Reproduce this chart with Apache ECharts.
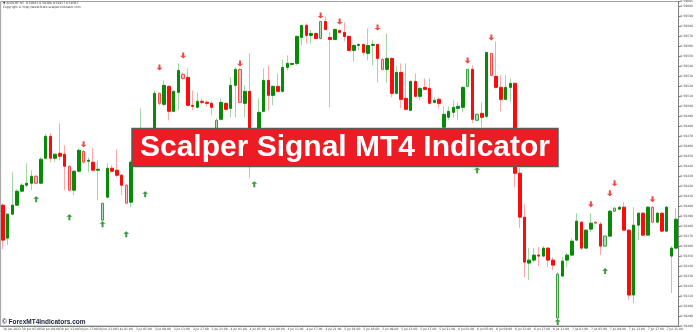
<!DOCTYPE html>
<html><head><meta charset="utf-8">
<script src="https://cdn.jsdelivr.net/npm/echarts/dist/echarts.min.js"></script>
<style>html,body{margin:0;padding:0;background:#fff}#c{width:696px;height:332px}</style>
</head><body><div id="c"></div>
<script>
// ---- tick labels (H1 bars: 30 Jun 01:00 .. 7 Jul 23:00) ----
const categories = [];
for (let h = 1; h < 24; h++) categories.push(h === 1 ? '30 Jun 2023' : '30 Jun ' + String(h).padStart(2, '0') + ':00');
for (let d = 3; d <= 7; d++) for (let h = 0; h < 24; h++) categories.push(d + ' Jul ' + String(h).padStart(2, '0') + ':00');

// ---- OHLC values ----
const opens = [0.59401,0.59368,0.59392,0.59401,0.59415,0.59421,0.59423,0.59430,0.59423,0.59448,
0.59470,0.59448,0.59453,0.59452,0.59440,0.59416,0.59435,0.59455,0.59445,0.59444,
0.59436,0.59386,0.59409,0.59438,0.59436,0.59431,0.59421,0.59404,0.59446,0.59456,
0.59474,0.59458,0.59466,0.59513,0.59502,0.59520,0.59495,0.59514,0.59532,0.59529,
0.59501,0.59499,0.59505,0.59504,0.59503,0.59466,0.59487,0.59503,0.59498,0.59521,
0.59537,0.59503,0.59515,0.59446,0.59471,0.59495,0.59526,0.59511,0.59520,0.59515,
0.59539,0.59542,0.59543,0.59569,0.59581,0.59571,0.59573,0.59568,0.59585,0.59569,
0.59567,0.59576,0.59574,0.59570,0.59556,0.59561,0.59562,0.59553,0.59561,0.59562,
0.59547,0.59537,0.59548,0.59513,0.59534,0.59508,0.59496,0.59525,0.59510,0.59519,
0.59518,0.59504,0.59507,0.59479,0.59489,0.59494,0.59498,0.59499,0.59520,0.59537,
0.59486,0.59493,0.59490,0.59553,0.59530,0.59519,0.59507,0.59519,0.59523,0.59433,
0.59389,0.59343,0.59346,0.59351,0.59350,0.59358,0.59346,0.59288,0.59330,0.59346,
0.59351,0.59366,0.59384,0.59358,0.59377,0.59384,0.59382,0.59360,0.59370,0.59395,
0.59397,0.59399,0.59376,0.59311,0.59381,0.59393,0.59371,0.59399,0.59384,0.59393,
0.59375,0.59350,0.59358];
const closes = [0.59366,0.59392,0.59401,0.59415,0.59421,0.59423,0.59430,0.59423,0.59447,0.59470,
0.59448,0.59452,0.59450,0.59440,0.59416,0.59435,0.59456,0.59444,0.59446,0.59436,
0.59437,0.59403,0.59438,0.59435,0.59431,0.59421,0.59403,0.59444,0.59461,0.59474,
0.59458,0.59476,0.59513,0.59503,0.59521,0.59495,0.59515,0.59536,0.59528,0.59501,
0.59500,0.59505,0.59504,0.59503,0.59499,0.59486,0.59504,0.59497,0.59521,0.59537,
0.59504,0.59515,0.59456,0.59466,0.59494,0.59526,0.59511,0.59520,0.59515,0.59539,
0.59543,0.59543,0.59570,0.59581,0.59571,0.59573,0.59568,0.59585,0.59577,0.59567,
0.59577,0.59574,0.59570,0.59556,0.59561,0.59562,0.59554,0.59561,0.59562,0.59548,
0.59537,0.59548,0.59513,0.59534,0.59507,0.59497,0.59525,0.59510,0.59518,0.59517,
0.59503,0.59506,0.59503,0.59492,0.59495,0.59499,0.59500,0.59519,0.59537,0.59487,
0.59492,0.59489,0.59554,0.59531,0.59519,0.59507,0.59519,0.59523,0.59433,0.59389,
0.59344,0.59346,0.59351,0.59350,0.59358,0.59346,0.59341,0.59332,0.59345,0.59351,
0.59365,0.59385,0.59358,0.59376,0.59383,0.59383,0.59360,0.59370,0.59395,0.59398,
0.59399,0.59376,0.59311,0.59381,0.59393,0.59371,0.59399,0.59384,0.59393,0.59375,
0.59399,0.59358,0.59387];
const highs = [0.59403,0.59393,0.59434,0.59417,0.59423,0.59443,0.59436,0.59431,0.59449,0.59472,
0.59473,0.59453,0.59483,0.59461,0.59441,0.59436,0.59458,0.59456,0.59449,0.59458,
0.59446,0.59403,0.59443,0.59441,0.59457,0.59432,0.59422,0.59446,0.59466,0.59498,
0.59476,0.59477,0.59516,0.59514,0.59526,0.59521,0.59516,0.59543,0.59534,0.59538,
0.59516,0.59514,0.59508,0.59506,0.59505,0.59488,0.59508,0.59504,0.59529,0.59539,
0.59538,0.59521,0.59553,0.59471,0.59508,0.59538,0.59541,0.59521,0.59533,0.59547,
0.59551,0.59543,0.59571,0.59582,0.59583,0.59577,0.59574,0.59585,0.59590,0.59574,
0.59578,0.59577,0.59584,0.59571,0.59562,0.59563,0.59563,0.59578,0.59566,0.59563,
0.59548,0.59573,0.59549,0.59541,0.59543,0.59543,0.59526,0.59533,0.59519,0.59528,
0.59528,0.59509,0.59509,0.59500,0.59500,0.59506,0.59504,0.59520,0.59537,0.59541,
0.59493,0.59504,0.59554,0.59553,0.59565,0.59531,0.59531,0.59528,0.59524,0.59438,
0.59402,0.59358,0.59358,0.59359,0.59360,0.59359,0.59349,0.59334,0.59349,0.59353,
0.59368,0.59393,0.59385,0.59377,0.59393,0.59385,0.59384,0.59371,0.59396,0.59399,
0.59400,0.59404,0.59377,0.59399,0.59394,0.59394,0.59400,0.59400,0.59394,0.59394,
0.59400,0.59360,0.59398];
const lows = [0.59357,0.59361,0.59391,0.59400,0.59414,0.59419,0.59416,0.59422,0.59422,0.59448,
0.59444,0.59444,0.59446,0.59416,0.59415,0.59411,0.59434,0.59443,0.59434,0.59435,
0.59406,0.59385,0.59408,0.59434,0.59429,0.59411,0.59402,0.59399,0.59443,0.59451,
0.59440,0.59456,0.59464,0.59501,0.59500,0.59486,0.59494,0.59496,0.59526,0.59500,
0.59496,0.59498,0.59502,0.59500,0.59491,0.59461,0.59486,0.59495,0.59489,0.59489,
0.59503,0.59489,0.59428,0.59441,0.59468,0.59494,0.59496,0.59501,0.59514,0.59514,
0.59536,0.59541,0.59541,0.59561,0.59563,0.59563,0.59567,0.59567,0.59576,0.59499,
0.59566,0.59573,0.59565,0.59555,0.59545,0.59556,0.59551,0.59546,0.59541,0.59524,
0.59536,0.59524,0.59509,0.59512,0.59498,0.59496,0.59495,0.59509,0.59506,0.59516,
0.59502,0.59503,0.59498,0.59476,0.59486,0.59489,0.59486,0.59494,0.59519,0.59483,
0.59485,0.59479,0.59488,0.59530,0.59518,0.59495,0.59506,0.59504,0.59419,0.59378,
0.59329,0.59326,0.59344,0.59340,0.59349,0.59339,0.59336,0.59286,0.59329,0.59339,
0.59350,0.59365,0.59356,0.59357,0.59374,0.59382,0.59351,0.59359,0.59369,0.59394,
0.59396,0.59375,0.59306,0.59303,0.59366,0.59370,0.59370,0.59383,0.59383,0.59374,
0.59374,0.59313,0.59357];

// ---- signal arrows (bar index, price) ----
const sellIdx = [17,33,38,50,67,71,79,98,103,124,128,129,137];
const sellVal = [0.59462,0.59539,0.59551,0.59543,0.59591,0.59585,0.59579,0.59546,0.59569,0.59402,0.59413,0.59423,0.59407];
const buyIdx = [7,14,21,26,30,53,100,117,127];
const buyVal = [0.59407,0.59389,0.59382,0.59372,0.59412,0.59422,0.59436,0.59284,0.59335];

// bars drawn with a faded body in the picture (style list, by bar index)
const fadedBars = [7,14,17,21,26,33,38,45,50,67,80,98,100,103,117,125,127,129,137];

const wickData = opens.map((o, i) => [o, closes[i], lows[i], highs[i]]);
const bodyData = opens.map((o, i) => {
  const v = [o, closes[i], Math.min(o, closes[i]), Math.max(o, closes[i])];
  if (fadedBars.indexOf(i) < 0) return v;
  const up = closes[i] > o;
  return {value: v, itemStyle: up
    ? {color: '#b5dcb5', borderColor: '#3f9f3f'}
    : {color0: '#ffc0c0', borderColor0: '#ff4a4a', color: '#ffc0c0', borderColor: '#ff4a4a'}};
});

const chart = echarts.init(document.getElementById('c'), null, {renderer: 'canvas'});
chart.setOption({
  animation: false,
  backgroundColor: '#fff',
  grid: {left: 0, right: 14, top: 1, bottom: 6, show: true, borderColor: '#a0a0a0', borderWidth: 1},
  xAxis: {
    type: 'category', data: categories, boundaryGap: true,
    axisLine: {lineStyle: {color: '#808080'}},
    axisTick: {interval: 3, length: 2, lineStyle: {color: '#808080'}},
    axisLabel: {interval: 3, fontSize: 3, color: '#444', margin: 1.5, align: 'left', fontFamily: 'DejaVu Sans'}
  },
  yAxis: {
    type: 'value', position: 'right', min: 0.5928, max: 0.59605, interval: 0.0001, scale: true,
    axisLine: {show: true, lineStyle: {color: '#808080'}},
    axisTick: {show: true, length: 2, lineStyle: {color: '#808080'}},
    splitLine: {show: false},
    axisLabel: {fontSize: 3, color: '#444', margin: 2, formatter: v => v.toFixed(5), fontFamily: 'DejaVu Sans'}
  },
  series: [
    {type: 'candlestick', data: wickData, barWidth: 1, silent: true,
     itemStyle: {color: '#a3d6a3', color0: '#ffa6a6', borderColor: '#a3d6a3', borderColor0: '#ffa6a6', borderWidth: 1}},
    {type: 'candlestick', data: bodyData, barWidth: 3, silent: true,
     itemStyle: {color: '#078a07', color0: '#ff0a0a', borderColor: '#078a07', borderColor0: '#ff0a0a', borderWidth: 1}},
    {type: 'scatter', data: sellIdx.map((x, k) => [x, sellVal[k]]), silent: true,
     symbol: 'path://M2,0 L4,0 L4,4 L6,4 L3,7 L0,4 L2,4 Z', symbolSize: [6, 6], itemStyle: {color: '#f01818'}},
    {type: 'scatter', data: buyIdx.map((x, k) => [x, buyVal[k]]), silent: true,
     symbol: 'path://M3,0 L6,3 L4,3 L4,7 L2,7 L2,3 L0,3 Z', symbolSize: [6, 6], itemStyle: {color: '#0e800e'}}
  ],
  graphic: [
    {type: 'text', left: 3, top: 2, z: 50, style: {text: '▼ AUDCHF,H1  0.59387 0.59398 0.59357 0.59387', fontSize: 3, fill: '#333', fontFamily: 'DejaVu Sans'}},
    {type: 'text', left: 3, top: 5.5, z: 50, style: {text: 'Copyright © http://www.forex-scalper-indicator.com', fontSize: 3, fill: '#333', fontFamily: 'DejaVu Sans'}},
    {type: 'text', left: 2, top: 319, z: 50, style: {text: '© ForexMT4Indicators.com', fontSize: 6.5, fontWeight: 'bold', fill: '#1b2036', fontFamily: 'Liberation Sans'}},
    {type: 'rect', z: 100, shape: {x: 132, y: 128.5, width: 426, height: 38}, style: {fill: '#ed1c24', stroke: '#5a5a5a', lineWidth: 1.5}},
    {type: 'text', z: 101, x: 345, y: 148, style: {text: 'Scalper Signal MT4 Indicator', fontSize: 30, fontWeight: 'bold', fill: '#fff', fontFamily: 'Liberation Sans', align: 'center', verticalAlign: 'middle'}}
  ]
});
</script></body></html>
